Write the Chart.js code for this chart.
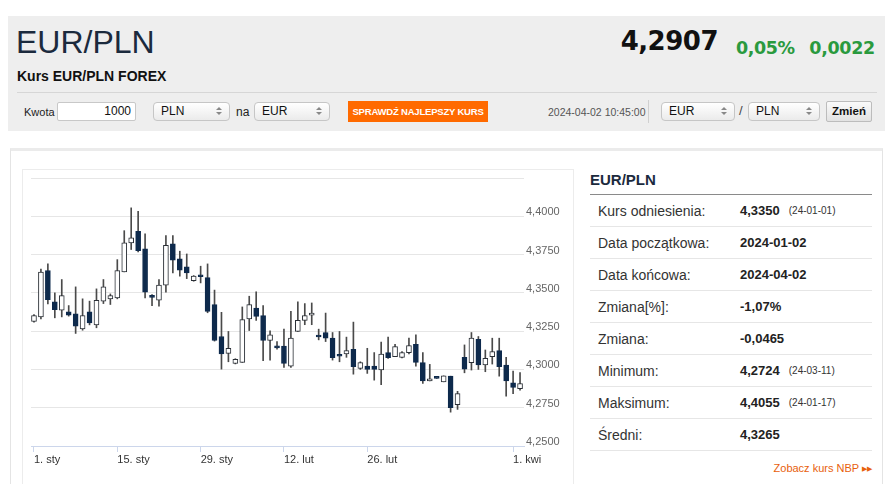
<!DOCTYPE html>
<html>
<head>
<meta charset="utf-8">
<script src="https://cdn.jsdelivr.net/npm/chart.js@4.4.1/dist/chart.umd.min.js"></script>
<style>
  body { margin: 0; background: #fff; font-family: Arial, "Liberation Sans", sans-serif; color: #333; }
  .abs { position: absolute; white-space: nowrap; }
  #head { left: 8px; top: 16px; width: 877px; height: 115px; background: #eeeeee; }
  #sep { left: 17px; top: 92px; width: 860px; height: 1px; background: #d6d6d6; }
  .sel { position: absolute; top: 102px; height: 19px; box-sizing: border-box; border: 1px solid #c6c6c6;
         border-radius: 4px; background: linear-gradient(#ffffff, #ebebeb); font-size: 12px; line-height: 17px;
         padding-left: 7px; color: #111; }
  .sel:before, .sel:after { content: ""; position: absolute; right: 7px; border-left: 3px solid transparent; border-right: 3px solid transparent; }
  .sel:before { top: 4px; border-bottom: 3px solid #888; }
  .sel:after { top: 9px; border-top: 3px solid #888; }
  #panel { left: 10px; top: 148px; width: 871px; height: 400px; border: 1px solid #e4e4e4; border-top: 3px solid #ebebeb; }
  #frame { left: 22px; top: 169px; width: 550px; height: 330px; border: 1px solid #ececec; }
  #info { left: 590px; top: 168px; width: 282px; }
  #info .t { font-weight: bold; font-size: 15px; color: #1b2a3d; height: 26px; line-height: 24px; border-bottom: 1px solid #8a8a8a; }
  #info .r { height: 32px; box-sizing: border-box; border-bottom: 1px solid #e6e6e6; display: flex; align-items: center; font-size: 14px; }
  #info .r .l { width: 150px; padding-left: 8px; box-sizing: border-box; color: #333; }
  #info .r .v { font-weight: bold; font-size: 13px; color: #222; }
  #info .r .d { font-size: 10px; color: #333; margin-left: 9px; }
</style>
</head>
<body>
<div class="abs" id="head"></div>
<div class="abs" style="left:16px;top:26px;font-size:32px;line-height:32px;color:#1b2a3d;">EUR/PLN</div>
<div class="abs" style="left:17px;top:69px;font-size:14px;line-height:14px;font-weight:bold;color:#111;">Kurs EUR/PLN FOREX</div>
<div class="abs" style="right:175px;top:28px;font-family:'DejaVu Sans';font-weight:bold;font-size:26px;line-height:26px;color:#111;letter-spacing:-0.5px;">4,2907</div>
<div class="abs" style="left:736px;top:39px;font-family:'DejaVu Sans';font-weight:bold;font-size:17.5px;line-height:18px;color:#2a9a3e;letter-spacing:-0.4px;">0,05%</div>
<div class="abs" style="right:18px;top:39px;font-family:'DejaVu Sans';font-weight:bold;font-size:17.5px;line-height:18px;color:#2a9a3e;letter-spacing:-0.3px;">0,0022</div>
<div class="abs" id="sep"></div>

<div class="abs" style="left:24px;top:105px;font-size:11px;line-height:14px;color:#222;">Kwota</div>
<div class="abs" style="left:57px;top:102px;width:79px;height:19px;box-sizing:border-box;border:1px solid #c8c8c8;border-radius:2px;background:#fff;font-size:12px;line-height:17px;text-align:right;padding-right:4px;color:#111;">1000</div>
<div class="sel" style="left:153px;width:77px;">PLN</div>
<div class="abs" style="left:236px;top:105px;font-size:12px;line-height:14px;color:#222;">na</div>
<div class="sel" style="left:254px;width:76px;">EUR</div>
<div class="abs" style="left:348px;top:101px;width:140px;height:21px;background:#ff6a00;color:#fff;font-weight:bold;font-size:9.5px;line-height:21px;text-align:center;letter-spacing:-0.2px;overflow:hidden;">SPRAWDŹ NAJLEPSZY KURS</div>
<div class="abs" style="left:548px;top:106px;font-size:10.5px;line-height:12px;color:#555;">2024-04-02 10:45:00</div>
<div class="abs" style="left:648px;top:100px;width:1px;height:23px;background:#d0d0d0;"></div>
<div class="sel" style="left:661px;width:74px;">EUR</div>
<div class="abs" style="left:739px;top:104px;font-size:13px;line-height:14px;color:#444;">/</div>
<div class="sel" style="left:748px;width:72px;">PLN</div>
<div class="abs" style="left:826px;top:101px;width:46px;height:21px;box-sizing:border-box;border:1px solid #bcbcbc;border-radius:2px;background:linear-gradient(#fafafa,#e2e2e2);font-weight:bold;font-size:11.5px;line-height:19px;text-align:center;color:#111;">Zmień</div>

<div class="abs" id="panel"></div>
<div class="abs" id="frame"></div>
<canvas id="candles" class="abs" style="left:22px;top:169px;" width="551" height="315"></canvas>

<div class="abs" id="info">
  <div class="t">EUR/PLN</div>
  <div class="r"><span class="l">Kurs odniesienia:</span><span class="v">4,3350</span><span class="d">(24-01-01)</span></div>
  <div class="r"><span class="l">Data początkowa:</span><span class="v">2024-01-02</span></div>
  <div class="r"><span class="l">Data końcowa:</span><span class="v">2024-04-02</span></div>
  <div class="r"><span class="l">Zmiana[%]:</span><span class="v">-1,07%</span></div>
  <div class="r"><span class="l">Zmiana:</span><span class="v">-0,0465</span></div>
  <div class="r"><span class="l">Minimum:</span><span class="v">4,2724</span><span class="d">(24-03-11)</span></div>
  <div class="r"><span class="l">Maksimum:</span><span class="v">4,4055</span><span class="d">(24-01-17)</span></div>
  <div class="r"><span class="l">Średni:</span><span class="v">4,3265</span></div>
</div>
<div class="abs" style="right:21px;top:462px;font-size:11px;line-height:12px;color:#e8600c;">Zobacz kurs NBP <span style="font-size:7px;vertical-align:1px;">&#9654;&#9654;</span></div>

<script>
// daily EUR/PLN candles
const opens = [4.3313, 4.3343, 4.3646, 4.3441, 4.3387, 4.3376, 4.3363, 4.3265, 4.3376, 4.3291,
  4.3446, 4.3461, 4.3467, 4.3637, 4.3826, 4.3902, 4.3787, 4.3472, 4.3452, 4.3550,
  4.3820, 4.3722, 4.3670, 4.3580, 4.3611, 4.3599, 4.3423, 4.3215, 4.3105, 4.3039,
  4.3046, 4.3329, 4.3401, 4.3351, 4.3189, 4.3143, 4.3153, 4.3022, 4.3248, 4.3320,
  4.3355, 4.3216, 4.3241, 4.3204, 4.3088, 4.3101, 4.3132, 4.3007, 4.3022, 4.3022,
  4.2996, 4.3110, 4.3083, 4.3079, 4.3110, 4.3164, 4.3044, 4.2925, 4.2943, 4.2919,
  4.2956, 4.2770, 4.3079, 4.3044, 4.3197, 4.3029, 4.3083, 4.3123, 4.3029, 4.2912,
  4.2875];
const highs = [4.3358, 4.3656, 4.3689, 4.3500, 4.3587, 4.3417, 4.3539, 4.3461, 4.3446, 4.3526,
  4.3587, 4.3493, 4.3717, 4.3906, 4.4055, 4.4033, 4.3885, 4.3489, 4.3587, 4.3874,
  4.3874, 4.3772, 4.3754, 4.3613, 4.3674, 4.3689, 4.3518, 4.3373, 4.3248, 4.3070,
  4.3408, 4.3478, 4.3507, 4.3417, 4.3252, 4.3182, 4.3263, 4.3379, 4.3441, 4.3430,
  4.3434, 4.3263, 4.3368, 4.3241, 4.3248, 4.3211, 4.3309, 4.3050, 4.3138, 4.3110,
  4.3178, 4.3211, 4.3164, 4.3116, 4.3204, 4.3226, 4.3110, 4.3033, 4.2944, 4.2958,
  4.2956, 4.2857, 4.3160, 4.3241, 4.3215, 4.3127, 4.3204, 4.3204, 4.3079, 4.2989,
  4.2980];
const lows = [4.3308, 4.3330, 4.3428, 4.3337, 4.3343, 4.3348, 4.3235, 4.3256, 4.3291, 4.3272,
  4.3430, 4.3424, 4.3461, 4.3637, 4.3783, 4.3767, 4.3467, 4.3417, 4.3413, 4.3504,
  4.3630, 4.3609, 4.3593, 4.3576, 4.3565, 4.3370, 4.3185, 4.3002, 4.3050, 4.3036,
  4.3046, 4.3254, 4.3320, 4.3057, 4.3061, 4.3132, 4.3013, 4.3013, 4.3248, 4.3292,
  4.3292, 4.3193, 4.3182, 4.3061, 4.3050, 4.3079, 4.2969, 4.3000, 4.2974, 4.2930,
  4.2901, 4.3072, 4.3083, 4.3075, 4.3101, 4.3022, 4.2908, 4.2925, 4.2941, 4.2919,
  4.2721, 4.2739, 4.2978, 4.2996, 4.3000, 4.2985, 4.3035, 4.2956, 4.2825, 4.2842,
  4.2864];
const closes = [4.3352, 4.3635, 4.3456, 4.3391, 4.3482, 4.3354, 4.3282, 4.3352, 4.3304, 4.3452,
  4.3539, 4.3482, 4.3646, 4.3826, 4.3859, 4.3776, 4.3504, 4.3470, 4.3550, 4.3811,
  4.3713, 4.3648, 4.3630, 4.3609, 4.3605, 4.3379, 4.3189, 4.3101, 4.3138, 4.3066,
  4.3325, 4.3423, 4.3346, 4.3189, 4.3226, 4.3141, 4.3039, 4.3204, 4.3320, 4.3351,
  4.3368, 4.3212, 4.3204, 4.3077, 4.3086, 4.3123, 4.3018, 4.3044, 4.3000, 4.3000,
  4.3101, 4.3077, 4.3149, 4.3110, 4.3156, 4.3046, 4.2925, 4.2939, 4.2942, 4.2958,
  4.2750, 4.2842, 4.3002, 4.3204, 4.3029, 4.3072, 4.3116, 4.3018, 4.2925, 4.2882,
  4.2908];

// x-axis: candle index of each labelled date
const tickPos = [0, 12, 24, 36, 48, 69];
const tickLabels = ["1. sty", "15. sty", "29. sty", "12. lut", "26. lut", "1. kwi"];
const yTicks = [4.25, 4.275, 4.3, 4.325, 4.35, 4.375, 4.4, 4.425];

const UP_FILL = "#ffffff", UP_LINE = "#2a2f36", DOWN = "#0e2a4c";

const bodies = opens.map((o, i) => ({ x: i, y: [o, closes[i]] }));
const wicks = lows.map((l, i) => ({ x: i, y: [l, highs[i]] }));
const isUp = closes.map((c, i) => c >= opens[i]);

new Chart(document.getElementById("candles"), {
  type: "bar",
  data: {
    datasets: [
      {
        data: bodies,
        backgroundColor: isUp.map(u => (u ? UP_FILL : DOWN)),
        borderColor: isUp.map(u => (u ? UP_LINE : DOWN)),
        borderWidth: 1,
        borderSkipped: false,
        barThickness: 5,
        minBarLength: 2,
        grouped: false
      },
      {
        data: wicks,
        backgroundColor: "#4a4a4a",
        borderWidth: 0,
        barThickness: 1,
        grouped: false
      }
    ]
  },
  options: {
    responsive: false,
    animation: false,
    layout: { padding: { left: 9, top: 9, right: 0, bottom: 0 } },
    plugins: { legend: { display: false }, tooltip: { enabled: false } },
    scales: {
      x: {
        type: "linear",
        offset: false,
        min: -0.43,
        max: 70.57,
        afterBuildTicks: s => { s.ticks = tickPos.map(v => ({ value: v })); },
        afterFit: s => { s.height = 38; },
        grid: { offset: false, drawOnChartArea: false, drawTicks: true, tickLength: 6, tickColor: "#ccd6eb" },
        border: { color: "#ccd6eb" },
        ticks: {
          autoSkip: false,
          maxRotation: 0,
          align: "start",
          padding: 1,
          color: "#333",
          font: { family: "Arial", size: 11 },
          callback: v => tickLabels[tickPos.indexOf(v)] || ""
        }
      },
      y: {
        position: "right",
        beginAtZero: false,
        min: 4.25,
        max: 4.425,
        afterBuildTicks: s => { s.ticks = yTicks.map(v => ({ value: v })); },
        afterFit: s => { s.width = 49; },
        grid: { color: "#e6e6e6", drawTicks: false },
        border: { display: false },
        ticks: {
          padding: 2,
          labelOffset: -4,
          color: "#666",
          font: { family: "Arial", size: 11 },
          callback: v => (v > 4.42 ? "" : v.toFixed(4).replace(".", ","))
        }
      }
    }
  }
});
</script>
</body>
</html>
